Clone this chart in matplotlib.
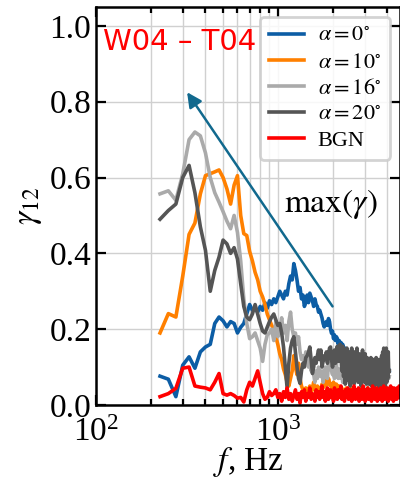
import numpy as np
import matplotlib.pyplot as plt
from matplotlib.ticker import LogLocator, NullFormatter

plt.rcParams['font.family'] = 'serif'
plt.rcParams['font.serif'] = ['Liberation Serif', 'DejaVu Serif']
plt.rcParams['mathtext.fontset'] = 'stix'

# frequency bins, Hz (25 Hz resolution)
freq = 225 + 25 * np.arange(180)

gamma_a0 = [
    0.076, 0.068, 0.022, 0.105, 0.127, 0.097, 0.140, 0.153, 0.160, 0.215,
    0.232, 0.222, 0.206, 0.220, 0.215, 0.190, 0.205, 0.215, 0.240, 0.265,
    0.250, 0.255, 0.245, 0.260, 0.250, 0.270, 0.255, 0.275, 0.265, 0.280,
    0.270, 0.285, 0.300, 0.290, 0.280, 0.300, 0.290, 0.320, 0.340, 0.330,
    0.373, 0.355, 0.330, 0.300, 0.310, 0.280, 0.290, 0.260, 0.270, 0.290,
    0.270, 0.295, 0.285, 0.275, 0.260, 0.280, 0.265, 0.260, 0.245, 0.250,
    0.240, 0.230, 0.215, 0.206, 0.215, 0.220, 0.210, 0.228, 0.220, 0.200,
    0.189, 0.195, 0.175, 0.185, 0.170, 0.180, 0.175, 0.160, 0.170, 0.155,
    0.165, 0.150, 0.160, 0.145, 0.135, 0.150, 0.130, 0.145, 0.125, 0.140,
    0.120, 0.135, 0.115, 0.125, 0.135, 0.110, 0.125, 0.105, 0.130, 0.115,
    0.100, 0.120, 0.110, 0.095, 0.115, 0.105, 0.120, 0.095, 0.110, 0.090,
    0.105, 0.115, 0.095, 0.110, 0.100, 0.085, 0.105, 0.095, 0.110, 0.090,
    0.100, 0.110, 0.090, 0.105, 0.115, 0.095, 0.100, 0.085, 0.105, 0.110,
    0.095, 0.090, 0.105, 0.080, 0.100, 0.095, 0.110, 0.090, 0.085, 0.100,
    0.095, 0.105, 0.090, 0.080, 0.100, 0.095, 0.085, 0.105, 0.090, 0.100,
    0.095, 0.085, 0.100, 0.090, 0.095, 0.090,
]

gamma_a10 = [
    0.190, 0.241, 0.232, 0.340, 0.450, 0.480, 0.557, 0.605, 0.610, 0.615,
    0.620, 0.600, 0.570, 0.530, 0.580, 0.605, 0.500, 0.452, 0.447, 0.405,
    0.380, 0.350, 0.330, 0.300, 0.285, 0.265, 0.240, 0.225, 0.210, 0.200,
    0.180, 0.160, 0.135, 0.120, 0.095, 0.080, 0.060, 0.050, 0.070, 0.090,
    0.130, 0.100, 0.080, 0.110, 0.070, 0.050, 0.040, 0.035, 0.045, 0.030,
    0.040, 0.050, 0.035, 0.045, 0.060, 0.040, 0.030, 0.050, 0.045, 0.035,
    0.040, 0.055, 0.045, 0.060, 0.050, 0.065, 0.055, 0.070, 0.060, 0.050,
    0.055, 0.045, 0.060, 0.050, 0.040, 0.055, 0.045, 0.035, 0.050, 0.040,
    0.030, 0.045, 0.035, 0.025, 0.040, 0.030, 0.045, 0.035, 0.025, 0.040,
    0.030, 0.020, 0.035, 0.045, 0.030, 0.025, 0.040, 0.030, 0.020, 0.035,
    0.025, 0.040, 0.030, 0.020, 0.035, 0.045, 0.030, 0.025, 0.035, 0.020,
    0.030, 0.040, 0.025, 0.035, 0.020, 0.030, 0.045, 0.030, 0.025, 0.035,
    0.020, 0.030, 0.040, 0.025, 0.035, 0.030, 0.020, 0.035, 0.025, 0.040,
    0.030, 0.020, 0.035, 0.025, 0.030, 0.040, 0.025, 0.035, 0.020, 0.030,
    0.035, 0.025, 0.040, 0.030, 0.020, 0.035, 0.030, 0.025, 0.035, 0.030,
    0.025, 0.035, 0.030, 0.040, 0.030, 0.035,
]

gamma_a16 = [
    0.557, 0.565, 0.540, 0.610, 0.700, 0.720, 0.710, 0.665, 0.600, 0.560,
    0.535, 0.510, 0.485, 0.465, 0.500, 0.455, 0.380, 0.280, 0.215, 0.175,
    0.180, 0.190, 0.170, 0.150, 0.115, 0.160, 0.185, 0.190, 0.200, 0.170,
    0.220, 0.180, 0.200, 0.230, 0.190, 0.210, 0.170, 0.220, 0.245, 0.200,
    0.180, 0.190, 0.160, 0.180, 0.140, 0.120, 0.130, 0.110, 0.140, 0.120,
    0.100, 0.130, 0.090, 0.110, 0.080, 0.060, 0.090, 0.070, 0.100, 0.080,
    0.075, 0.090, 0.060, 0.080, 0.100, 0.085, 0.070, 0.110, 0.120, 0.100,
    0.090, 0.080, 0.100, 0.070, 0.090, 0.110, 0.085, 0.070, 0.095, 0.080,
    0.070, 0.090, 0.060, 0.085, 0.100, 0.075, 0.065, 0.090, 0.080, 0.060,
    0.085, 0.070, 0.095, 0.065, 0.080, 0.060, 0.090, 0.075, 0.065, 0.085,
    0.070, 0.060, 0.080, 0.090, 0.065, 0.075, 0.060, 0.085, 0.070, 0.080,
    0.065, 0.090, 0.070, 0.060, 0.080, 0.075, 0.065, 0.085, 0.070, 0.060,
    0.075, 0.085, 0.065, 0.070, 0.080, 0.060, 0.075, 0.085, 0.070, 0.065,
    0.080, 0.070, 0.060, 0.075, 0.085, 0.065, 0.070, 0.080, 0.060, 0.075,
    0.070, 0.065, 0.080, 0.070, 0.060, 0.075, 0.070, 0.080, 0.065, 0.070,
    0.075, 0.065, 0.070, 0.080, 0.070, 0.075,
]

gamma_a20 = [
    0.490, 0.513, 0.530, 0.600, 0.632, 0.560, 0.470, 0.408, 0.300, 0.355,
    0.390, 0.435, 0.425, 0.400, 0.415, 0.385, 0.320, 0.260, 0.232, 0.225,
    0.240, 0.265, 0.240, 0.215, 0.195, 0.190, 0.205, 0.220, 0.232, 0.240,
    0.225, 0.210, 0.215, 0.190, 0.153, 0.100, 0.045, 0.110, 0.150, 0.170,
    0.180, 0.140, 0.100, 0.070, 0.057, 0.090, 0.110, 0.100, 0.125, 0.130,
    0.140, 0.153, 0.120, 0.083, 0.100, 0.125, 0.110, 0.130, 0.145, 0.120,
    0.145, 0.100, 0.115, 0.130, 0.120, 0.140, 0.110, 0.130, 0.150, 0.153,
    0.120, 0.100, 0.130, 0.145, 0.110, 0.140, 0.155, 0.115, 0.145, 0.160,
    0.130, 0.090, 0.155, 0.075, 0.135, 0.055, 0.125, 0.150, 0.065, 0.140,
    0.090, 0.050, 0.130, 0.150, 0.075, 0.125, 0.055, 0.140, 0.105, 0.065,
    0.150, 0.110, 0.060, 0.135, 0.085, 0.125, 0.050, 0.115, 0.145, 0.070,
    0.120, 0.060, 0.135, 0.095, 0.055, 0.125, 0.080, 0.115, 0.055, 0.110,
    0.070, 0.125, 0.050, 0.105, 0.070, 0.120, 0.045, 0.095, 0.115, 0.060,
    0.125, 0.055, 0.105, 0.080, 0.050, 0.120, 0.070, 0.110, 0.045, 0.100,
    0.130, 0.060, 0.140, 0.055, 0.150, 0.075, 0.045, 0.135, 0.080, 0.150,
    0.060, 0.125, 0.070, 0.140, 0.085, 0.090,
]

gamma_bgn = [
    0.022, 0.030, 0.044, 0.097, 0.100, 0.050, 0.047, 0.045, 0.040, 0.060,
    0.083, 0.030, 0.026, 0.030, 0.025, 0.018, 0.020, 0.008, 0.040, 0.060,
    0.050, 0.070, 0.090, 0.060, 0.030, 0.015, 0.020, 0.035, 0.025, 0.030,
    0.040, 0.020, 0.030, 0.010, 0.035, 0.020, 0.045, 0.015, 0.030, 0.010,
    0.025, 0.040, 0.015, 0.030, 0.005, 0.035, 0.020, 0.040, 0.010, 0.030,
    0.020, 0.045, 0.015, 0.030, 0.025, 0.010, 0.040, 0.020, 0.035, 0.015,
    0.030, 0.050, 0.020, 0.035, 0.010, 0.030, 0.045, 0.015, 0.025, 0.040,
    0.020, 0.030, 0.010, 0.045, 0.025, 0.035, 0.015, 0.040, 0.020, 0.030,
    0.050, 0.015, 0.035, 0.025, 0.010, 0.040, 0.030, 0.020, 0.045, 0.015,
    0.030, 0.025, 0.040, 0.010, 0.035, 0.020, 0.050, 0.025, 0.015, 0.040,
    0.030, 0.020, 0.045, 0.010, 0.035, 0.025, 0.040, 0.015, 0.030, 0.050,
    0.020, 0.035, 0.010, 0.040, 0.025, 0.030, 0.045, 0.015, 0.035, 0.020,
    0.040, 0.025, 0.010, 0.035, 0.050, 0.020, 0.030, 0.040, 0.015, 0.035,
    0.025, 0.045, 0.010, 0.030, 0.040, 0.020, 0.035, 0.015, 0.045, 0.025,
    0.030, 0.010, 0.040, 0.020, 0.050, 0.030, 0.015, 0.040, 0.025, 0.035,
    0.020, 0.045, 0.030, 0.010, 0.035, 0.025, 0.040, 0.020, 0.050, 0.030,
    0.015, 0.040, 0.025, 0.035, 0.010, 0.045, 0.030, 0.020, 0.040, 0.025,
    0.035, 0.015, 0.045, 0.030, 0.020, 0.040, 0.025, 0.050, 0.030, 0.020,
]

labels = [r'$\alpha=0^{\circ}$', r'$\alpha=10^{\circ}$', r'$\alpha=16^{\circ}$',
          r'$\alpha=20^{\circ}$', 'BGN']
colors = ['#0c5da5', '#ff8000', '#aaaaaa', '#555555', '#ff0000']
series = [gamma_a0, gamma_a10, gamma_a16, gamma_a20, gamma_bgn]

fig = plt.figure(figsize=(4.0, 4.86), dpi=100)
ax = fig.add_axes([0.24, 0.1667, 0.76, 0.819])

for vals, c, lab in zip(series, colors, labels):
    ax.plot(freq[:len(vals)], vals, color=c, lw=2.6, label=lab)

ax.set_xscale('log')
ax.set_xlim(100, 4700)
ax.set_ylim(0, 1.05)
ax.set_yticks([0.0, 0.2, 0.4, 0.6, 0.8, 1.0])
ax.set_yticklabels(['0.0', '0.2', '0.4', '0.6', '0.8', '1.0'])
ax.xaxis.set_minor_locator(LogLocator(base=10, subs=np.arange(2, 10)))
ax.xaxis.set_minor_formatter(NullFormatter())

ax.grid(True, which='both', axis='x', color='#d0d0d0', lw=1.0)
ax.grid(True, which='major', axis='y', color='#d0d0d0', lw=1.0)
ax.set_axisbelow(True)

for s in ax.spines.values():
    s.set_linewidth(1.8)
ax.tick_params(which='both', direction='in', top=True, right=True,
               labelsize=24, width=1.6)
ax.tick_params(which='major', length=7)
ax.tick_params(which='minor', length=4)
ax.tick_params(axis='x', which='major', pad=9)

ax.set_xlabel(r'$f$, Hz', fontsize=24, labelpad=-2)
ax.set_ylabel(r'$\gamma_{12}$', fontsize=24, labelpad=4)

leg = ax.legend(loc='upper right', fontsize=16, handlelength=1.6,
                labelspacing=0.25, borderpad=0.4, handletextpad=0.6,
                borderaxespad=0.45, fancybox=True, framealpha=0.85)
leg.get_frame().set_edgecolor('#cccccc')
leg.get_frame().set_linewidth(2.0)

ax.text(109, 0.937, 'W04 – T04', color='red', fontsize=21,
        family='DejaVu Sans', va='baseline', ha='left')
ax.text(1075, 0.509, r'$\mathrm{max}(\gamma)$', fontsize=24,
        va='baseline', ha='left')
ax.annotate('', xy=(317, 0.825), xytext=(2000, 0.26),
            arrowprops=dict(arrowstyle='-|>', color='#11698e', lw=1.8,
                            mutation_scale=22, shrinkA=0, shrinkB=0))

fig.savefig('out.png', dpi=100)
